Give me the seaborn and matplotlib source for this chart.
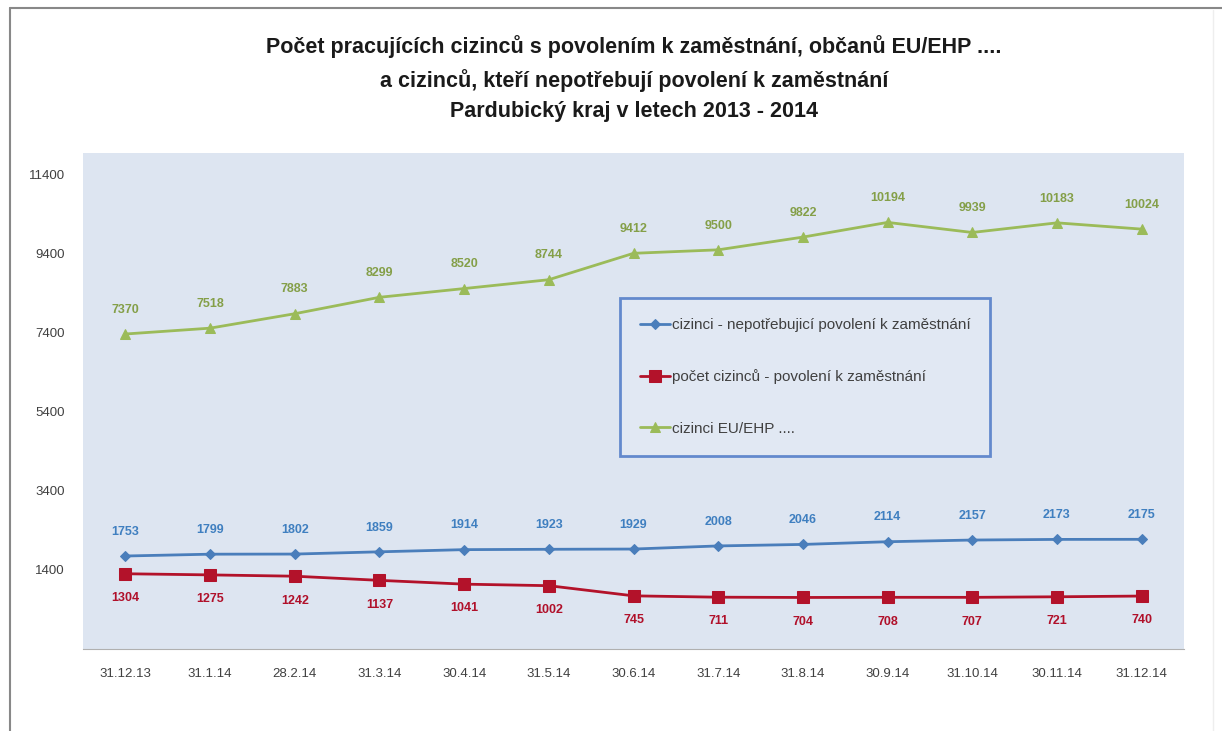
import matplotlib
matplotlib.use('Agg')
import matplotlib.pyplot as plt
from matplotlib.lines import Line2D
import seaborn as sns
import pandas as pd
import numpy as np

dates = ['31.12.13', '31.1.14', '28.2.14', '31.3.14', '30.4.14', '31.5.14', '30.6.14',
         '31.7.14', '31.8.14', '30.9.14', '31.10.14', '30.11.14', '31.12.14']
nepotrebuji = [1753, 1799, 1802, 1859, 1914, 1923, 1929, 2008, 2046, 2114, 2157, 2173, 2175]
povoleni = [1304, 1275, 1242, 1137, 1041, 1002, 745, 711, 704, 708, 707, 721, 740]
eu_ehp = [7370, 7518, 7883, 8299, 8520, 8744, 9412, 9500, 9822, 10194, 9939, 10183, 10024]

series = [
    ('cizinci - nepotřebujicí povolení k zaměstnání', nepotrebuji, '#4a7ebb', 'D', 5, '#3f7fc0', 1),
    ('počet cizinců - povolení k zaměstnání', povoleni, '#b3122a', 's', 8, '#b0102a', -1),
    ('cizinci EU/EHP ....', eu_ehp, '#9bbb59', '^', 7, '#849f48', 1),
]

sns.set_style('white')
plt.rcParams['font.family'] = ['Liberation Sans', 'DejaVu Sans']

fig = plt.figure(figsize=(12.22, 7.31), dpi=100)
ax = fig.add_axes([83 / 1222, 1 - 649 / 731, (1184 - 83) / 1222, (649 - 153) / 731])
ax.set_facecolor('#dde5f1')

x = np.arange(len(dates))
for name, vals, col, mk, ms, lcol, side in series:
    df = pd.DataFrame({'x': x, 'y': vals})
    sns.lineplot(data=df, x='x', y='y', ax=ax, color=col, marker=mk, markersize=ms,
                 markeredgecolor=col, linewidth=2, label=name)
    for xi, v in zip(x, vals):
        ax.annotate(str(v), (xi, v), xytext=(0, 17.5 * side), textcoords='offset points',
                    ha='center', va='center', fontsize=9, color=lcol, fontweight='bold')

ax.set_xlim(-0.5, len(dates) - 0.5)
ax.set_ylim(-600, 11950)
ax.set_xticks(x)
ax.set_xticklabels(dates, fontsize=9.5, color='#404040')
ax.set_yticks([1400, 3400, 5400, 7400, 9400, 11400])
ax.set_yticklabels(['1400', '3400', '5400', '7400', '9400', '11400'], fontsize=9.5, color='#404040')
ax.tick_params(axis='y', length=4, color='#999999', pad=9)
ax.tick_params(axis='x', length=0, pad=14)
ax.set_xlabel('')
ax.set_ylabel('')
for s in ['top', 'right', 'left']:
    ax.spines[s].set_visible(False)
ax.spines['bottom'].set_color('#b0b0b0')

leg = ax.legend(loc='upper left', bbox_to_anchor=((620 - 83) / 1101, 1 - (298 - 153) / 496),
                frameon=True, fontsize=11, labelspacing=2.45, handlelength=2.0,
                handletextpad=0.1, borderpad=1.3, borderaxespad=0, fancybox=False)
leg.get_frame().set_edgecolor('#4472c4')
leg.get_frame().set_linewidth(2)
leg.get_frame().set_facecolor('#e3e9f4')
for t in leg.get_texts():
    t.set_color('#404040')

fig.text(0.519, 1 - 35 / 731, 'Počet pracujících cizinců s povolením k zaměstnání, občanů EU/EHP ....\n'
         'a cizinců, kteří nepotřebují povolení k zaměstnání\n'
         'Pardubický kraj v letech 2013 - 2014',
         ha='center', va='top', fontsize=15.5, fontweight='bold', linespacing=1.6, color='#1a1a1a')

# frame of the screenshot
fig.add_artist(Line2D([10 / 1222, 10 / 1222], [0, 1 - 8 / 731], color='#888888', lw=1.5))
fig.add_artist(Line2D([10 / 1222, 1], [1 - 8 / 731, 1 - 8 / 731], color='#888888', lw=1.5))
fig.add_artist(Line2D([1213 / 1222, 1213 / 1222], [0, 1 - 10 / 731], color='#eeeeee', lw=1))

fig.savefig('out.png', dpi=100)
